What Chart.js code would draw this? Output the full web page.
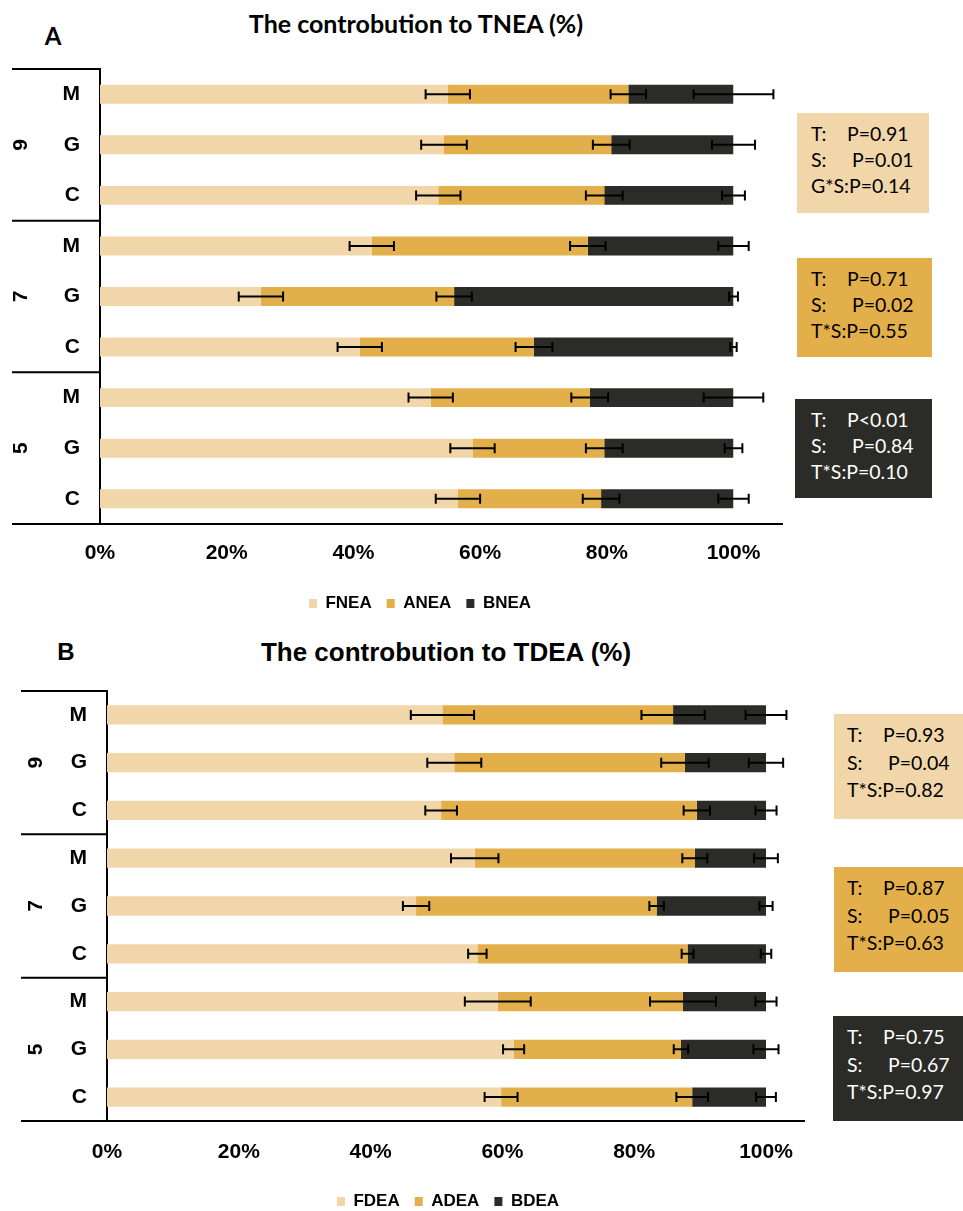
<!DOCTYPE html>
<html>
<head>
<meta charset="utf-8">
<script src="https://cdn.jsdelivr.net/npm/chart.js@4.4.1/dist/chart.umd.min.js"></script>
<style>
  body { margin: 0; background: #fff; width: 963px; height: 1211px; overflow: hidden; position: relative; }
  canvas { position: absolute; left: 0; }
  .title { position: absolute; transform: translate(-50%, -50%); white-space: nowrap; line-height: 1; color: #000; }
  .box { position: absolute; box-sizing: border-box; font-family: Lato, "Open Sans", sans-serif; font-size: 19.5px; white-space: nowrap; }
  .box span { display: inline-block; }
</style>
</head>
<body>
<div class="title" style="left:53px;top:35px;font:bold 24px Lato, sans-serif;">A</div>
<div class="title" style="left:416px;top:23px;font:bold 25px Lato, sans-serif;">The controbution to TNEA (%)</div>
<div class="title" style="left:66px;top:652px;font:bold 24px 'Liberation Sans', Arial, sans-serif;">B</div>
<div class="title" style="left:446px;top:652px;font:bold 26px 'Liberation Sans', Arial, sans-serif;">The controbution to TDEA (%)</div>
<canvas id="chartA" width="840" height="622" style="top:0px"></canvas>
<canvas id="chartB" width="896" height="600" style="top:620px"></canvas>
<script>
// rows top to bottom: stage 9, 7, 5 ; treatments M, G, C
const categories = ['M', 'G', 'C', 'M', 'G', 'C', 'M', 'G', 'C'];
const groups = ['9', '7', '5'];

// panel A - contribution to TNEA (%)
const fnea = [54.9, 54.3, 53.4, 42.9, 25.4, 41.0, 52.2, 58.8, 56.5];
const anea = [28.5, 26.4, 26.2, 34.1, 30.5, 27.5, 25.1, 20.8, 22.6];
const bnea = [16.6, 19.3, 20.4, 23.0, 44.1, 31.5, 22.7, 20.4, 20.9];
const fneaErr = [3.5, 3.6, 3.5, 3.5, 3.5, 3.5, 3.5, 3.5, 3.5];
const aneaErr = [2.8, 2.9, 2.9, 2.8, 2.8, 2.9, 2.9, 2.9, 2.9];
const bneaErr = [6.3, 3.4, 1.8, 2.4, 0.7, 0.5, 4.7, 1.4, 2.4];

// panel B - contribution to TDEA (%)
const fdea = [50.9, 52.7, 50.7, 55.8, 46.9, 56.2, 59.3, 61.7, 59.8];
const adea = [35.0, 35.0, 38.8, 33.4, 36.5, 31.9, 28.1, 25.4, 29.0];
const bdea = [14.1, 12.3, 10.5, 10.8, 16.6, 11.9, 12.6, 12.9, 11.2];
const fdeaErr = [4.8, 4.1, 2.4, 3.6, 2.0, 1.4, 5.0, 1.6, 2.5];
const adeaErr = [4.8, 3.6, 2.0, 1.9, 1.1, 0.9, 5.0, 1.1, 2.4];
const bdeaErr = [3.1, 2.6, 1.6, 1.8, 1.0, 0.8, 1.6, 1.9, 1.5];

// ANOVA boxes
const statsA = [['T:', 'P=0.91'], ['S:', 'P=0.01'], ['G*S:', 'P=0.14']];
const statsA2 = [['T:', 'P=0.71'], ['S:', 'P=0.02'], ['T*S:', 'P=0.55']];
const statsA3 = [['T:', 'P<0.01'], ['S:', 'P=0.84'], ['T*S:', 'P=0.10']];
const statsB = [['T:', 'P=0.93'], ['S:', 'P=0.04'], ['T*S:', 'P=0.82']];
const statsB2 = [['T:', 'P=0.87'], ['S:', 'P=0.05'], ['T*S:', 'P=0.63']];
const statsB3 = [['T:', 'P=0.75'], ['S:', 'P=0.67'], ['T*S:', 'P=0.97']];

const colors = ['#f1d6aa', '#e3af4b', '#2b2b27'];
const FONT = '"Liberation Sans", Arial, sans-serif';

const errorBars = {
  id: 'errorBars',
  afterDatasetsDraw(chart, args, opts) {
    const { ctx, scales: { x, y } } = chart;
    const sets = chart.data.datasets;
    ctx.save();
    ctx.strokeStyle = '#000';
    ctx.lineWidth = 2;
    sets.forEach((ds, i) => {
      ds.data.forEach((v, j) => {
        let cum = 0;
        for (let k = 0; k <= i; k++) cum += sets[k].data[j];
        const e = opts.errors[i][j];
        const x1 = x.getPixelForValue(cum - e);
        const x2 = x.getPixelForValue(cum + e);
        const py = y.getPixelForValue(j);
        ctx.beginPath();
        ctx.moveTo(x1, py); ctx.lineTo(x2, py);
        ctx.moveTo(x1, py - 5); ctx.lineTo(x1, py + 5);
        ctx.moveTo(x2, py - 5); ctx.lineTo(x2, py + 5);
        ctx.stroke();
      });
    });
    ctx.restore();
  }
};

const panelDecor = {
  id: 'panelDecor',
  afterDraw(chart, args, opts) {
    const { ctx, chartArea: a, scales: { y } } = chart;
    const step = y.getPixelForValue(1) - y.getPixelForValue(0);
    ctx.save();
    ctx.strokeStyle = '#000';
    ctx.lineWidth = 2;
    ctx.beginPath();
    ctx.moveTo(opts.left, a.top); ctx.lineTo(a.left, a.top);
    for (let g = 1; g < groups.length; g++) {
      const py = y.getPixelForValue(g * 3) - step / 2;
      ctx.moveTo(opts.left, py); ctx.lineTo(a.left, py);
    }
    ctx.moveTo(opts.left, a.bottom); ctx.lineTo(opts.right, a.bottom);
    ctx.stroke();
    ctx.font = 'bold 21px ' + FONT;
    ctx.fillStyle = '#000';
    ctx.textAlign = 'center';
    ctx.textBaseline = 'middle';
    groups.forEach((g, i) => {
      ctx.save();
      ctx.translate(opts.groupX, y.getPixelForValue(i * 3 + 1));
      ctx.rotate(-Math.PI / 2);
      ctx.fillText(g, 0, 0);
      ctx.restore();
    });
    ctx.restore();
  }
};

function makeChart(id, names, series, errs, p) {
  return new Chart(document.getElementById(id), {
    type: 'bar',
    data: {
      labels: categories,
      datasets: series.map((d, i) => ({
        label: names[i],
        data: d,
        backgroundColor: colors[i],
        borderWidth: 0,
        barPercentage: p.barPct,
        categoryPercentage: 1
      }))
    },
    options: {
      indexAxis: 'y',
      responsive: false,
      animation: false,
      devicePixelRatio: 1,
      layout: { padding: { top: p.top, left: 0, right: 0, bottom: 0 } },
      scales: {
        x: {
          stacked: true, min: 0, max: 100,
          grid: { display: false, drawTicks: false },
          border: { display: false },
          ticks: { stepSize: 20, padding: p.tickPad, color: '#000', font: { family: FONT, size: 21, weight: 'bold' },
            callback: v => v + '%' },
          afterFit: s => { s.height = p.xHeight; }
        },
        y: {
          stacked: true,
          grid: { display: false, drawTicks: false },
          border: { display: true, color: '#000', width: 2 },
          ticks: { padding: 20, color: '#000', font: { family: FONT, size: 21, weight: 'bold' } },
          afterFit: s => { s.width = p.yWidth; }
        },
        // empty right-hand axis: keeps the plot narrow while the legend stays centred on the canvas
        yRight: {
          type: 'category',
          position: 'right',
          grid: { display: false, drawTicks: false },
          border: { display: false },
          ticks: { display: false },
          afterFit: s => { s.width = p.rightGap; }
        }
      },
      plugins: {
        legend: {
          position: 'bottom',
          labels: { boxWidth: 8, boxHeight: 9, padding: 15, color: '#000', font: { family: FONT, size: 17, weight: 'bold' } }
        },
        tooltip: { enabled: false },
        errorBars: { errors: errs },
        panelDecor: { left: p.lineLeft, right: p.lineRight, groupX: p.groupX }
      }
    },
    plugins: [errorBars, panelDecor]
  });
}

makeChart('chartA', ['FNEA', 'ANEA', 'BNEA'], [fnea, anea, bnea], [fneaErr, aneaErr, bneaErr],
  { top: 69, rightGap: 106.5, yWidth: 100, xHeight: 56, tickPad: 17, barPct: 0.375, lineLeft: 12, lineRight: 783, groupX: 21 });
makeChart('chartB', ['FDEA', 'ADEA', 'BDEA'], [fdea, adea, bdea], [fdeaErr, adeaErr, bdeaErr],
  { top: 71, rightGap: 130, yWidth: 107, xHeight: 57, tickPad: 19, barPct: 0.404, lineLeft: 21, lineRight: 805, groupX: 36 });

function statBox(rows, x, y, w, h, bg, fg, lh, padTop, padLeft) {
  const d = document.createElement('div');
  d.className = 'box';
  Object.assign(d.style, { left: x + 'px', top: y + 'px', width: w + 'px', height: h + 'px', background: bg, color: fg,
    lineHeight: lh + 'px', paddingTop: padTop + 'px', paddingLeft: padLeft + 'px' });
  const keyW = [36, 41, 0];
  rows.forEach((r, i) => {
    const line = document.createElement('div');
    const k = document.createElement('span');
    k.textContent = r[0];
    if (keyW[i]) k.style.width = keyW[i] + 'px';
    line.appendChild(k);
    line.appendChild(document.createTextNode(r[1]));
    d.appendChild(line);
  });
  document.body.appendChild(d);
}
statBox(statsA, 797, 113, 132, 100, colors[0], '#000', 26, 8, 14);
statBox(statsA2, 797, 258, 135, 99, colors[1], '#000', 26, 8, 14);
statBox(statsA3, 795, 399, 137, 99, colors[2], '#fff', 26, 8, 16);
statBox(statsB, 834, 714, 129, 105, colors[0], '#000', 27.5, 7, 13);
statBox(statsB2, 834, 867, 129, 105, colors[1], '#000', 27.5, 7, 13);
statBox(statsB3, 833, 1016, 130, 105, colors[2], '#fff', 27.5, 7, 14);
</script>
</body>
</html>
